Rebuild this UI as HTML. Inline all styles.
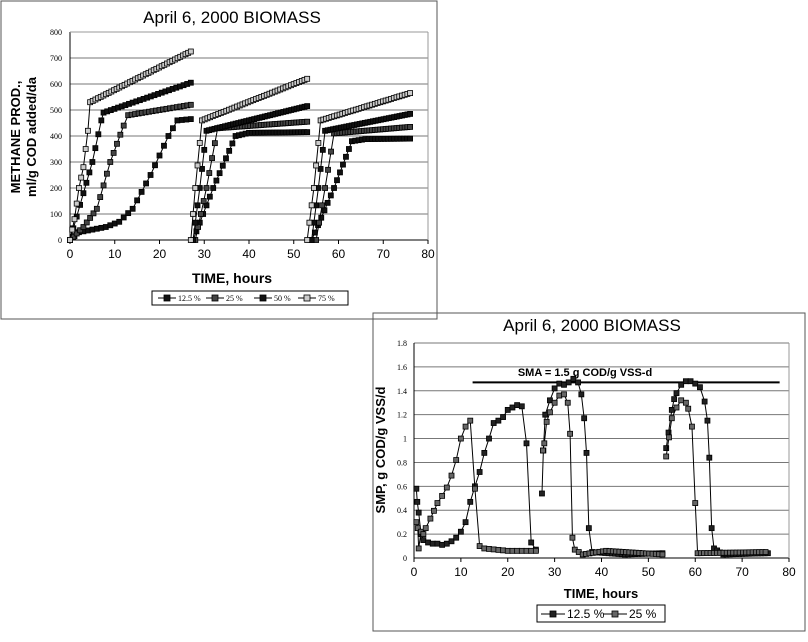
<!DOCTYPE html>
<html><head><meta charset="utf-8"><style>
html,body{margin:0;padding:0;background:#fff;}
svg{display:block;font-family:"Liberation Sans",sans-serif;}
</style></head><body>
<svg id="s" width="808" height="642" viewBox="0 0 808 642" xmlns="http://www.w3.org/2000/svg">
<rect x="0" y="0" width="808" height="642" fill="#fff"/>
<rect x="1" y="1" width="436" height="318" fill="none" stroke="#555" stroke-width="1"/>
<text x="232" y="23" font-size="17" text-anchor="middle">April 6, 2000  BIOMASS</text>
<text x="232" y="283" font-size="14" font-weight="bold" text-anchor="middle">TIME, hours</text>
<text transform="translate(20,137) rotate(-90)" font-size="13" font-weight="bold" text-anchor="middle">METHANE PROD.,</text>
<text transform="translate(36,137) rotate(-90)" font-size="13" font-weight="bold" text-anchor="middle">ml/g COD added/da</text>
<rect x="152" y="291" width="196" height="14" fill="#fff" stroke="#000"/>
<g id="c1"></g>
<rect x="373" y="313" width="432" height="318" fill="none" stroke="#555" stroke-width="1"/>
<text x="592" y="331" font-size="17" text-anchor="middle">April 6, 2000 BIOMASS</text>
<text x="601" y="598" font-size="13" font-weight="bold" text-anchor="middle">TIME, hours</text>
<text transform="translate(385,450) rotate(-90)" font-size="13" font-weight="bold" text-anchor="middle">SMP, g COD/g VSS/d</text>
<text x="585" y="376" font-size="11" font-weight="bold" text-anchor="middle">SMA = 1.5 g COD/g VSS-d</text>
<rect x="537" y="605" width="128" height="17" fill="#fff" stroke="#000"/>
<g id="c2"></g>
</svg>
<script>
var NS="http://www.w3.org/2000/svg";
function el(p,t,a,txt){var e=document.createElementNS(NS,t);for(var k in a)e.setAttribute(k,a[k]);if(txt!==undefined)e.textContent=txt;p.appendChild(e);return e;}
var g1=document.getElementById('c1');
var X1=function(t){return 70+t*(358/80);},Y1=function(v){return 240-v*0.26;};
for(var v=0;v<=800;v+=100){el(g1,'line',{x1:70,x2:428,y1:Y1(v),y2:Y1(v),stroke:v==0?'#000':'#777','stroke-width':1});
 el(g1,'text',{x:62,y:Y1(v)+3,'font-size':8,'text-anchor':'end','font-family':'Liberation Serif'},v);}
el(g1,'line',{x1:70,x2:70,y1:32,y2:240,stroke:'#000'});
el(g1,'line',{x1:428,x2:428,y1:32,y2:240,stroke:'#999'});
el(g1,'line',{x1:70,x2:428,y1:32,y2:32,stroke:'#999'});
for(var t=0;t<=80;t+=10){el(g1,'line',{x1:X1(t),x2:X1(t),y1:240,y2:244,stroke:'#000'});
 el(g1,'text',{x:X1(t),y:258,'font-size':12,'text-anchor':'middle'},t);}
function interp(kp,step){var out=[];for(var i=0;i<kp.length-1;i++){var a=kp[i],b=kp[i+1];var n=Math.max(1,Math.round((b[0]-a[0])/step));for(var j=0;j<n;j++){var f=j/n;out.push([a[0]+(b[0]-a[0])*f,a[1]+(b[1]-a[1])*f]);}}out.push(kp[kp.length-1]);return out;}
function series(g,X,Y,segs,fill,sz){segs.forEach(function(s){var pts=interp(s[0],s[1]);
 el(g,'polyline',{points:pts.map(function(p){return X(p[0])+','+Y(p[1]);}).join(' '),fill:'none',stroke:'#000','stroke-width':1});
 pts.forEach(function(p){el(g,'rect',{x:X(p[0])-sz/2,y:Y(p[1])-sz/2,width:sz,height:sz,fill:fill,stroke:'#000','stroke-width':0.8});});});}
var s12=[[[[0,0],[2,30],[8,50],[11,70],[14,120],[18,250],[22,400],[24,460],[27,465]],1],
 [[[27.5,0],[32,200],[37,400],[40,412],[53,415]],0.7],[[[54,0],[59,200],[63,380],[66,388],[76,390]],0.7]];
var s25=[[[[0,0],[3,50],[6,120],[9,300],[12,440],[13,480],[27,520]],0.8],
 [[[28,0],[30.5,200],[33,430],[53,455]],0.6],[[[55,0],[57,200],[59,410],[76,435]],0.6]];
var s50=[[[[0,0],[3,180],[5,300],[7,460],[7.5,490],[27,605]],0.8],
 [[[27.5,0],[29,200],[30.5,420],[53,515]],0.6],[[[54,0],[55.5,200],[57,420],[76,485]],0.6]];
var s75=[[[[0,0],[1,80],[2,200],[3,280],[4,420],[4.5,530],[27,725]],0.6],
 [[[27,0],[28,200],[29.5,460],[53,620]],0.6],[[[53,0],[54.5,200],[56,460],[76,565]],0.6]];
series(g1,X1,Y1,s12,'#111',5);series(g1,X1,Y1,s25,'#444',5);series(g1,X1,Y1,s50,'#111',5);series(g1,X1,Y1,s75,'#ccc',5);
[['12.5 %','#111',158],['25 %','#444',206],['50 %','#111',254],['75 %','#ccc',298]].forEach(function(l){
 el(g1,'line',{x1:l[2],x2:l[2]+18,y1:298,y2:298,stroke:'#000'});
 el(g1,'rect',{x:l[2]+6,y:295,width:6,height:6,fill:l[1],stroke:'#000','stroke-width':0.8});
 el(g1,'text',{x:l[2]+20,y:301,'font-size':8,'font-family':'Liberation Serif'},l[0]);});
var g2=document.getElementById('c2');
var X2=function(t){return 414+t*(375/80);},Y2=function(v){return 558-v*(215/1.8);};
for(var k=0;k<=9;k++){var v2=k*0.2;el(g2,'line',{x1:414,x2:789,y1:Y2(v2),y2:Y2(v2),stroke:k==0?'#000':'#777'});
 var lab=k==0?'0':(k==5?'1':v2.toFixed(1));
 el(g2,'text',{x:407,y:Y2(v2)+3,'font-size':8,'text-anchor':'end','font-family':'Liberation Serif'},lab);}
el(g2,'line',{x1:414,x2:414,y1:343,y2:558,stroke:'#000'});
el(g2,'line',{x1:789,x2:789,y1:343,y2:558,stroke:'#999'});
for(var t2=0;t2<=80;t2+=10){el(g2,'line',{x1:X2(t2),x2:X2(t2),y1:558,y2:562,stroke:'#000'});
 el(g2,'text',{x:X2(t2),y:576,'font-size':12,'text-anchor':'middle'},t2);}
el(g2,'line',{x1:X2(12.5),x2:X2(78),y1:Y2(1.47),y2:Y2(1.47),stroke:'#000','stroke-width':2});
var p12=[[[[0.5,0.58],[0.7,0.47],[1,0.38],[1.5,0.2],[2,0.15],[3,0.13],[4,0.12],[5,0.12],[6,0.11],[7,0.12],[8,0.14],[9,0.17],[10,0.22],[11,0.3],[12,0.47],[13,0.6],[14,0.72],[15,0.88],[16,1.0],[17,1.13],[18,1.15],[19,1.18],[20,1.24],[21,1.26],[22,1.28],[23,1.27],[24,0.96],[25,0.13],[26,0.07]],1],
 [[[27.3,0.54],[27.6,0.9],[28,1.2],[29,1.32],[30,1.42],[31,1.46],[32,1.45],[33,1.47],[34,1.5],[35,1.47],[35.7,1.37],[36.3,1.17],[36.8,0.88],[37.3,0.25],[38,0.05],[45,0.03],[53,0.04]],0.7],
 [[[53.8,0.92],[54.3,1.05],[55,1.24],[55.5,1.33],[56,1.38],[57,1.45],[58,1.48],[59,1.48],[60,1.46],[61,1.43],[62,1.31],[62.6,1.15],[63,0.84],[63.5,0.25],[64,0.08],[66,0.03],[75.5,0.04]],0.7]];
var p25=[[[[0.5,0.3],[0.8,0.25],[1,0.08],[1.5,0.22],[2,0.2],[2.5,0.25],[3.5,0.33],[5,0.46],[6,0.52],[7,0.59],[8,0.69],[9,0.82],[10,1.0],[11,1.1],[12,1.15],[13,0.58],[14,0.1],[15,0.08],[20,0.06],[26,0.06]],1],
 [[[27.5,0.9],[27.8,0.96],[28.3,1.14],[29,1.22],[30,1.3],[31,1.36],[32,1.37],[32.8,1.3],[33.3,1.04],[33.8,0.17],[34.3,0.07],[36,0.03],[41,0.06],[53,0.03]],0.7],
 [[[53.8,0.85],[55,1.17],[56,1.26],[57,1.32],[58,1.3],[58.5,1.25],[59.3,1.1],[60,0.46],[60.5,0.04],[75,0.05]],0.7]];
series(g2,X2,Y2,p12,'#222',5);series(g2,X2,Y2,p25,'#666',5);
[['12.5 %','#222',541],['25 %','#666',603]].forEach(function(l){
 el(g2,'line',{x1:l[2],x2:l[2]+24,y1:614,y2:614,stroke:'#000'});
 el(g2,'rect',{x:l[2]+9,y:611,width:6,height:6,fill:l[1],stroke:'#000','stroke-width':0.8});
 el(g2,'text',{x:l[2]+26,y:618,'font-size':12},l[0]);});
</script>
</body></html>
